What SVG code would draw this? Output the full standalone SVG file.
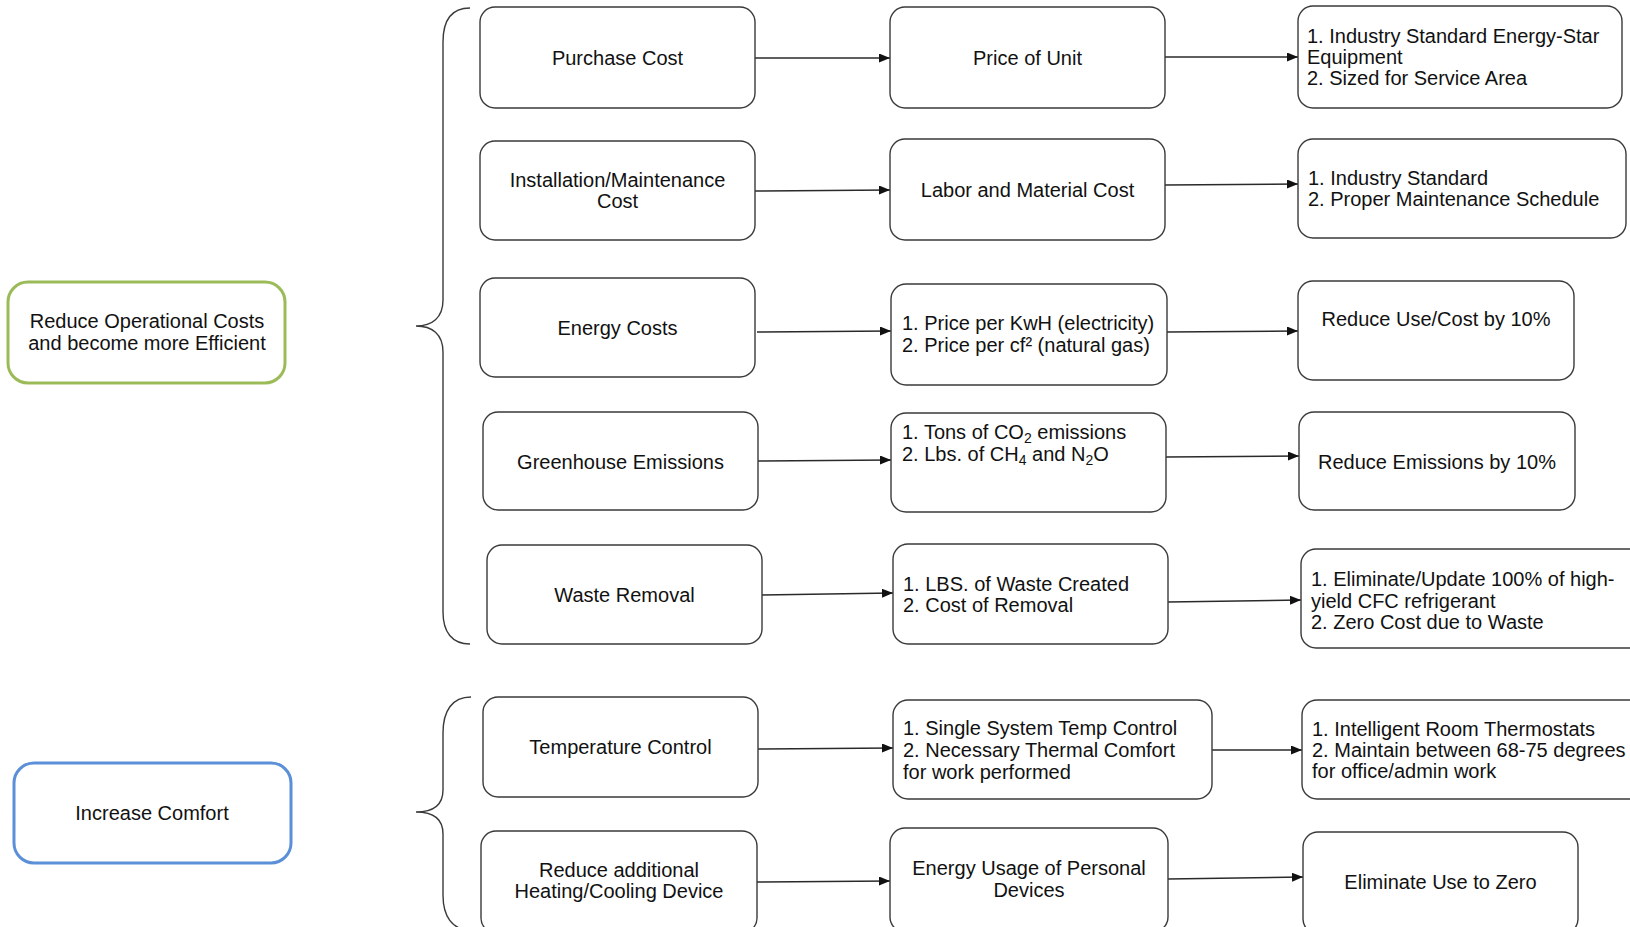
<svg xmlns="http://www.w3.org/2000/svg" width="1630" height="927" viewBox="0 0 1630 927">
<style>
.box{fill:#fff;stroke:#3a3a3a;stroke-width:1.4}
.t{font-family:"Liberation Sans",Arial,sans-serif;font-size:20px;fill:#111}
.c{text-anchor:middle}
.conn{stroke:#2a2a2a;stroke-width:1.4;fill:none}
.brace{stroke:#3a3a3a;stroke-width:1.4;fill:none}
.sub{font-size:14px}
</style>
<defs>
<marker id="ah" markerUnits="userSpaceOnUse" markerWidth="12" markerHeight="10" refX="11" refY="4.5" orient="auto">
<path d="M0,0 L11,4.5 L0,9 z" fill="#111"/>
</marker>
</defs>
<rect width="1630" height="927" fill="#fff"/>

<g id="goal-costs">
<rect x="8" y="282" width="277" height="101" rx="20" fill="#fff" stroke="#9bbb59" stroke-width="3"/>
<text class="t c" x="147" y="328">Reduce Operational Costs</text>
<text class="t c" x="147" y="350">and become more Efficient</text>
</g>
<g id="goal-comfort">
<rect x="14" y="763" width="277" height="100" rx="20" fill="#fff" stroke="#5b8fd8" stroke-width="3"/>
<text class="t c" x="152" y="820">Increase Comfort</text>
</g>

<g id="braces">
<path class="brace" d="M470,8 C452,8 443,20 443,42 L443,300 C443,318 432,326 416,326 C432,326 443,334 443,352 L443,612 C443,632 452,644 470,644"/>
<path class="brace" d="M471,697 C452,697 443,711 443,733 L443,790 C443,806 432,812 416,812 C432,812 443,818 443,834 L443,895 C443,916 452,930 470,930"/>
</g>

<g id="connectors">
<line class="conn" x1="755" y1="58" x2="890" y2="58" marker-end="url(#ah)"/>
<line class="conn" x1="1165" y1="57" x2="1298" y2="57" marker-end="url(#ah)"/>
<line class="conn" x1="755" y1="191" x2="890" y2="190" marker-end="url(#ah)"/>
<line class="conn" x1="1165" y1="185" x2="1298" y2="184" marker-end="url(#ah)"/>
<line class="conn" x1="757" y1="332" x2="891" y2="331" marker-end="url(#ah)"/>
<line class="conn" x1="1167" y1="332" x2="1298" y2="331" marker-end="url(#ah)"/>
<line class="conn" x1="758" y1="461" x2="891" y2="460" marker-end="url(#ah)"/>
<line class="conn" x1="1166" y1="457" x2="1299" y2="456" marker-end="url(#ah)"/>
<line class="conn" x1="762" y1="595" x2="893" y2="593" marker-end="url(#ah)"/>
<line class="conn" x1="1168" y1="602" x2="1301" y2="600" marker-end="url(#ah)"/>
<line class="conn" x1="758" y1="749" x2="893" y2="748" marker-end="url(#ah)"/>
<line class="conn" x1="1212" y1="750" x2="1302" y2="750" marker-end="url(#ah)"/>
<line class="conn" x1="757" y1="882" x2="890" y2="881" marker-end="url(#ah)"/>
<line class="conn" x1="1168" y1="879" x2="1303" y2="877" marker-end="url(#ah)"/>
</g>

<!-- Column 1 -->
<g id="purchase-cost">
<rect class="box" x="480" y="7" width="275" height="101" rx="15"/>
<text class="t c" x="617.5" y="65">Purchase Cost</text>
</g>
<g id="install-cost">
<rect class="box" x="480" y="141" width="275" height="99" rx="15"/>
<text class="t c" x="617.5" y="187">Installation/Maintenance</text>
<text class="t c" x="617.5" y="208">Cost</text>
</g>
<g id="energy-costs">
<rect class="box" x="480" y="278" width="275" height="99" rx="15"/>
<text class="t c" x="617.5" y="335">Energy Costs</text>
</g>
<g id="greenhouse">
<rect class="box" x="483" y="412" width="275" height="98" rx="15"/>
<text class="t c" x="620.5" y="469">Greenhouse Emissions</text>
</g>
<g id="waste-removal">
<rect class="box" x="487" y="545" width="275" height="99" rx="15"/>
<text class="t c" x="624.5" y="602">Waste Removal</text>
</g>
<g id="temp-control">
<rect class="box" x="483" y="697" width="275" height="100" rx="15"/>
<text class="t c" x="620.5" y="754">Temperature Control</text>
</g>
<g id="reduce-devices">
<rect class="box" x="481" y="831" width="276" height="102" rx="15"/>
<text class="t c" x="619" y="877">Reduce additional</text>
<text class="t c" x="619" y="898">Heating/Cooling Device</text>
</g>

<!-- Column 2 -->
<g id="price-unit">
<rect class="box" x="890" y="7" width="275" height="101" rx="15"/>
<text class="t c" x="1027.5" y="65">Price of Unit</text>
</g>
<g id="labor-material">
<rect class="box" x="890" y="139" width="275" height="101" rx="15"/>
<text class="t c" x="1027.5" y="197">Labor and Material Cost</text>
</g>
<g id="energy-price">
<rect class="box" x="891" y="284" width="276" height="101" rx="15"/>
<text class="t" x="902" y="330">1. Price per KwH (electricity)</text>
<text class="t" x="902" y="352">2. Price per cf² (natural gas)</text>
</g>
<g id="emission-measures">
<rect class="box" x="891" y="413" width="275" height="99" rx="15"/>
<text class="t" x="902" y="439">1. Tons of CO<tspan class="sub" dy="4">2</tspan><tspan dy="-4"> emissions</tspan></text>
<text class="t" x="902" y="461">2. Lbs. of CH<tspan class="sub" dy="4">4</tspan><tspan dy="-4"> and N</tspan><tspan class="sub" dy="4">2</tspan><tspan dy="-4">O</tspan></text>
</g>
<g id="waste-measures">
<rect class="box" x="893" y="544" width="275" height="100" rx="15"/>
<text class="t" x="903" y="591">1. LBS. of Waste Created</text>
<text class="t" x="903" y="612">2. Cost of Removal</text>
</g>
<g id="temp-measures">
<rect class="box" x="893" y="700" width="319" height="99" rx="15"/>
<text class="t" x="903" y="735">1. Single System Temp Control</text>
<text class="t" x="903" y="757">2. Necessary Thermal Comfort</text>
<text class="t" x="903" y="779">for work performed</text>
</g>
<g id="device-usage">
<rect class="box" x="890" y="828" width="278" height="104" rx="15"/>
<text class="t c" x="1029" y="875">Energy Usage of Personal</text>
<text class="t c" x="1029" y="897">Devices</text>
</g>

<!-- Column 3 -->
<g id="target-equipment">
<rect class="box" x="1298" y="6" width="324" height="102" rx="15"/>
<text class="t" x="1307" y="43">1. Industry Standard Energy-Star</text>
<text class="t" x="1307" y="64">Equipment</text>
<text class="t" x="1307" y="85">2. Sized for Service Area</text>
</g>
<g id="target-maintenance">
<rect class="box" x="1298" y="139" width="328" height="99" rx="15"/>
<text class="t" x="1308" y="185">1. Industry Standard</text>
<text class="t" x="1308" y="206">2. Proper Maintenance Schedule</text>
</g>
<g id="target-energy">
<rect class="box" x="1298" y="281" width="276" height="99" rx="15"/>
<text class="t c" x="1436" y="326">Reduce Use/Cost by 10%</text>
</g>
<g id="target-emissions">
<rect class="box" x="1299" y="412" width="276" height="98" rx="15"/>
<text class="t c" x="1437" y="469">Reduce Emissions by 10%</text>
</g>
<g id="target-waste">
<rect class="box" x="1301" y="549" width="345" height="99" rx="15"/>
<text class="t" x="1311" y="586">1. Eliminate/Update 100% of high-</text>
<text class="t" x="1311" y="608">yield CFC refrigerant</text>
<text class="t" x="1311" y="629">2. Zero Cost due to Waste</text>
</g>
<g id="target-temp">
<rect class="box" x="1302" y="700" width="345" height="99" rx="15"/>
<text class="t" x="1312" y="736">1. Intelligent Room Thermostats</text>
<text class="t" x="1312" y="757">2. Maintain between 68-75 degrees</text>
<text class="t" x="1312" y="778">for office/admin work</text>
</g>
<g id="target-devices">
<rect class="box" x="1303" y="832" width="275" height="102" rx="15"/>
<text class="t c" x="1440.5" y="889">Eliminate Use to Zero</text>
</g>
</svg>
